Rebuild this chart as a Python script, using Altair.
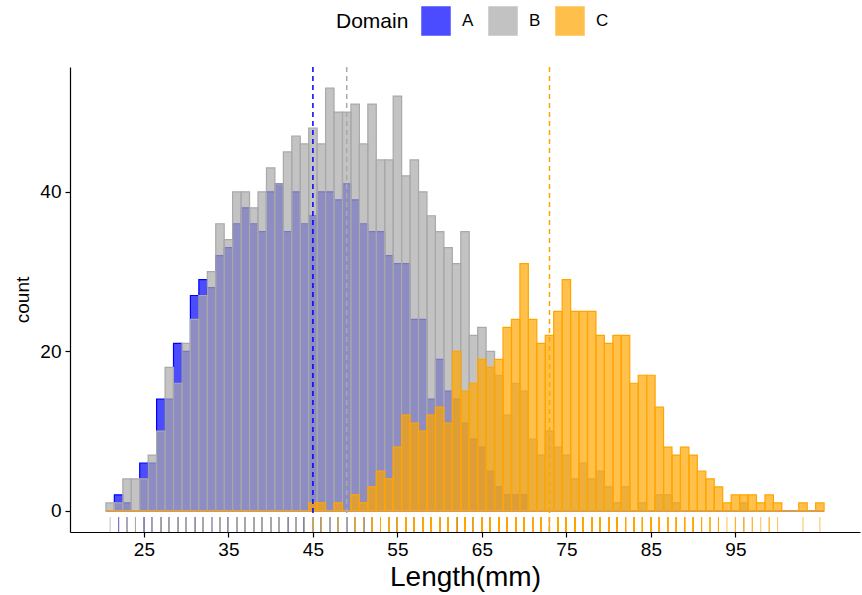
import altair as alt
import pandas as pd

# Integer length bins (binwidth 1, centred on each integer)
bins = list(range(21, 106))

count_a = [0, 2, 1, 0, 6, 6, 14, 14, 21, 20,
           27, 29, 28, 32, 33, 36, 38, 36, 35, 40,
           41, 35, 40, 36, 37, 40, 40, 39, 41, 39,
           36, 35, 35, 32, 31, 31, 24, 24, 14, 19,
           15, 14, 11, 9, 8, 5, 3, 2, 2, 2] + [0] * 35

count_b = [1, 1, 4, 4, 4, 7, 10, 18, 16, 21,
           24, 27, 30, 36, 34, 40, 40, 38, 40, 43,
           41, 45, 47, 46, 48, 46, 53, 50, 50, 51,
           46, 51, 44, 44, 52, 42, 44, 40, 37, 35,
           33, 31, 35, 22, 23, 20, 17, 12, 16, 15,
           9, 7, 10, 8, 7, 4, 6, 4, 5, 3,
           1, 3, 0, 1, 0, 2, 2, 1, 0, 0,
           0, 0, 0, 0, 0, 1, 0, 0, 0, 0,
           0, 0, 0, 0, 0]

count_c = [0] * 24 + [1, 1, 0, 1, 0, 2,
           1, 3, 5, 4, 8, 12, 11, 10, 12, 13,
           11, 20, 15, 16, 19, 18, 19, 23, 24, 31,
           24, 21, 22, 25, 29, 25, 25, 25, 22, 21,
           22, 22, 16, 17, 17, 13, 8, 7, 8, 7,
           5, 4, 3, 1, 2, 2, 2, 1, 2, 1,
           0, 0, 1, 0, 1]

domains = ["A", "B", "C"]
domain_colors = ["#0000ff", "#a9a9a9", "#ffa500"]
domain_means = [45, 49, 73]

x_ticks = [25, 35, 45, 55, 65, 75, 85, 95]
y_ticks = [0, 20, 40]

ALPHA = 0.7

rows = []
rug_rows = []
for dom, counts in zip(domains, [count_a, count_b, count_c]):
    for b, c in zip(bins, counts):
        rows.append({"Domain": dom, "lo": b - 0.5, "hi": b + 0.5, "count": c, "base": 0})
        # one semi-transparent rug tick per observation
        rug_rows.extend({"Domain": dom, "value": b} for _ in range(c))
hist_df = pd.DataFrame(rows)
rug_df = pd.DataFrame(rug_rows)
mean_df = pd.DataFrame({"Domain": domains, "mean": domain_means})

FONT = "Liberation Sans"
PLOT_W, PLOT_H = 790, 465

x_scale = alt.Scale(domain=[16.25, 109.75], nice=False, zero=False)
y_scale = alt.Scale(domain=[-2.65, 55.65], nice=False, zero=False)
col_scale = alt.Scale(domain=domains, range=domain_colors)

legend = alt.Legend(
    title="Domain", orient="none", legendX=266, legendY=-61,
    direction="horizontal", titleOrient="left", titleBaseline="middle",
    symbolType="square", symbolSize=784, symbolStrokeWidth=1.5,
    symbolFillColor="#ffffff",
)

hist = alt.Chart(hist_df).mark_rect(fillOpacity=ALPHA, strokeWidth=1.2).encode(
    x=alt.X("lo:Q", scale=x_scale, title="Length(mm)",
            axis=alt.Axis(values=x_ticks)),
    x2="hi:Q",
    y=alt.Y("count:Q", scale=y_scale, title="count",
            axis=alt.Axis(values=y_ticks)),
    y2="base:Q",
    fill=alt.Fill("Domain:N", scale=col_scale, legend=legend),
    stroke=alt.Stroke("Domain:N", scale=col_scale, legend=legend),
    order=alt.Order("Domain:N", sort="ascending"),
)

vlines = alt.Chart(mean_df).mark_rule(strokeWidth=1.5, strokeDash=[5, 4]).encode(
    x=alt.X("mean:Q", title="Length(mm)"),
    y=alt.value(0),
    y2=alt.value(PLOT_H),
    stroke=alt.Stroke("Domain:N", scale=col_scale, legend=legend),
)


def rug_layer(dom):
    # rug ticks of one domain, one layer per domain so later domains sit on top
    return alt.Chart(rug_df).transform_filter(
        alt.datum.Domain == dom
    ).mark_rule(strokeWidth=1, opacity=ALPHA).encode(
        x=alt.X("value:Q", title="Length(mm)"),
        y=alt.value(450),
        y2=alt.value(PLOT_H),
        stroke=alt.Stroke("Domain:N", scale=col_scale, legend=legend),
    )


chart = alt.layer(hist, vlines, *[rug_layer(d) for d in domains]).properties(
    width=PLOT_W, height=PLOT_H,
    autosize=alt.AutoSizeParams(type="none"),
    padding={"left": 70, "top": 67, "right": 2, "bottom": 63},
).configure_view(stroke=None).configure_axis(
    grid=False, domainColor="black", domainWidth=1.2,
    tickColor="black", tickWidth=1.2, tickSize=5,
    labelColor="black", titleColor="black",
    labelFont=FONT, titleFont=FONT, labelFontSize=19,
    titleFontWeight="normal",
).configure_axisX(
    titleFontSize=28, labelPadding=3, titlePadding=4, labelFlush=False,
).configure_axisY(
    titleFontSize=19, labelPadding=4, titlePadding=7,
).configure_legend(
    titleFont=FONT, labelFont=FONT, titleFontSize=21, labelFontSize=17,
    titleFontWeight="normal", titleColor="black", labelColor="black",
    labelOffset=11, columnPadding=12, titlePadding=12,
)

chart.save("out.html", embed_options={"renderer": "svg", "actions": False})
